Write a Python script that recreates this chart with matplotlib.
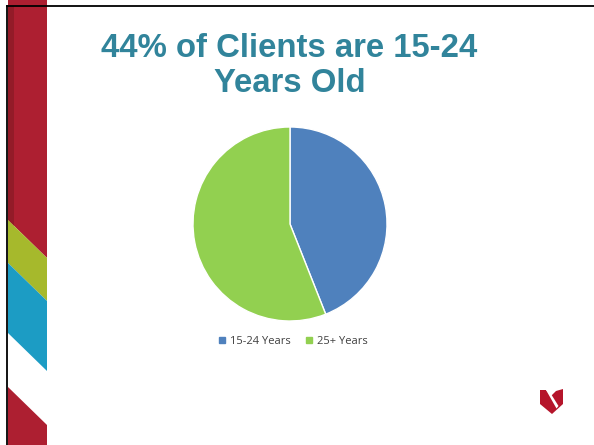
import matplotlib
matplotlib.use('Agg')
import matplotlib.pyplot as plt
from matplotlib.patches import Polygon
from matplotlib.lines import Line2D

# data
labels = ['15-24 Years', '25+ Years']
shares = [44, 56]
colors = ['#4F81BD', '#92D050']
title_lines = ['44% of Clients are 15-24', 'Years Old']

W, H = 594, 445
fig = plt.figure(figsize=(W / 100, H / 100), dpi=100)

# background decoration in pixel coordinates (y down)
bg = fig.add_axes([0, 0, 1, 1])
bg.set_xlim(0, W)
bg.set_ylim(H, 0)
bg.axis('off')

RED, DRED = '#AD1F31', '#931B28'
GREEN, BLUE = '#A6B92C', '#1C9CC4'
x0, x1 = 8, 47
s = 38 / 39

def band(top_left, bot_left, color):
    top_right = top_left + (x1 - x0) * s
    bot_right = bot_left + (x1 - x0) * s
    bg.add_patch(Polygon([(x0, top_left), (x1, top_right), (x1, bot_right), (x0, bot_left)],
                         closed=True, facecolor=color, edgecolor='none'))

band(-100, 220, RED)
bg.add_patch(Polygon([(x0, 6), (14, 6), (14, 226), (x0, 220)], facecolor=DRED, edgecolor='none'))
band(220, 263, GREEN)
band(263, 333, BLUE)
band(387, 520, RED)

bg.plot([7, W], [6, 6], color='black', lw=1.3)
bg.plot([7, 7], [6, H], color='black', lw=1.3)

# logo
bg.add_patch(Polygon([(540, 390), (546, 390), (551, 396), (556, 391), (563, 389),
                      (563, 404), (552, 414), (540, 404)], facecolor='#B5152B', edgecolor='none'))
bg.add_patch(Polygon([(546, 390), (548.5, 390), (558.5, 406), (556.5, 408.5)],
                     facecolor='white', edgecolor='none'))

# title
for i, line in enumerate(title_lines):
    fig.text(289.5 / W, 1 - (57 + 35 * i) / H, line, ha='center', va='baseline',
             fontsize=23.7, fontweight='bold', color='#31849B', family='Liberation Sans')

# pie
cx, cy, r = 290, 224, 97
ax = fig.add_axes([(cx - r) / W, (H - cy - r) / H, 2 * r / W, 2 * r / H])
ax.pie(shares, colors=colors, startangle=90, counterclock=False,
       wedgeprops=dict(edgecolor='white', linewidth=1))
ax.set_xlim(-1, 1)
ax.set_ylim(-1, 1)
ax.axis('off')

handles = [Line2D([], [], marker='s', linestyle='none', markersize=4.5,
                  markerfacecolor=c, markeredgecolor=c) for c in colors]
fig.legend(handles, labels, loc='center', bbox_to_anchor=(292 / W, 1 - 341 / H), ncol=2,
           frameon=False, handletextpad=0.2, columnspacing=1.2,
           handlelength=1.0, labelcolor='#404040', prop={'family': 'Open Sans', 'size': 8})

fig.savefig('out.png', dpi=100)
